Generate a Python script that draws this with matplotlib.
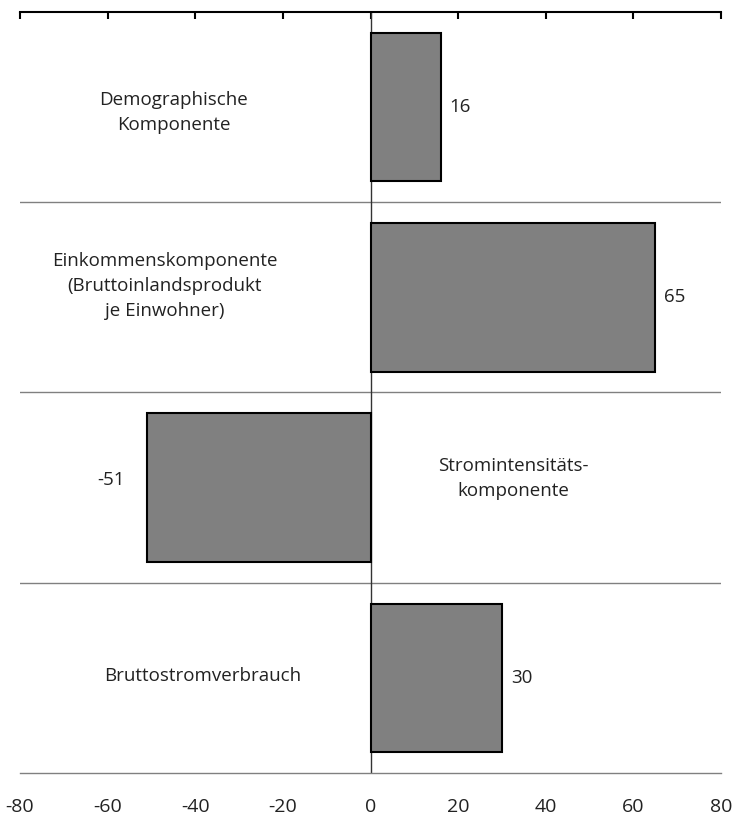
import numpy as np
import matplotlib.pyplot as plt

plt.rcParams['font.family'] = ['Open Sans', 'DejaVu Sans']

categories = ["Demographische\nKomponente",
              "Einkommenskomponente\n(Bruttoinlandsprodukt\nje Einwohner)",
              "Stromintensitäts-\nkomponente",
              "Bruttostromverbrauch"]
values = [16, 65, -51, 30]
xticks = [-80, -60, -40, -20, 0, 20, 40, 60, 80]

fig = plt.figure(figsize=(7.36, 8.21), dpi=100)
ax = fig.add_axes([20/736, 1 - 773/821, 701/736, 761/821])

ypos = np.arange(len(values)) + 0.5
ax.barh(ypos, values, height=0.78, color="#808080", edgecolor="black",
        linewidth=1.5, zorder=3)

ax.set_xlim(-80, 80)
ax.set_ylim(4, 0)
ax.set_xticks(xticks)
ax.set_xticklabels([str(t) for t in xticks])
ax.set_yticks([])

# separators between the components
for y in [1, 2, 3]:
    ax.axhline(y, color="#808080", lw=1.0, zorder=1)
ax.axvline(0, color="#333333", lw=1.0, zorder=2)

for side in ["left", "right"]:
    ax.spines[side].set_visible(False)
ax.spines["top"].set_linewidth(1.5)
ax.spines["bottom"].set_color("#808080")
ax.spines["bottom"].set_linewidth(1.0)

ax.tick_params(axis="x", top=True, bottom=False, direction="in",
               length=5, width=1.5, labelsize=14, pad=18, labelcolor="#222222")

# category labels
label_xy = [(-44.9, 0.53), (-47.0, 1.44), (32.7, 2.45), (-38.4, 3.49)]
for text, (x, y) in zip(categories, label_xy):
    ax.text(x, y, text, ha="center", va="center", fontsize=13.5,
            linespacing=1.5, color="#222222")

# value labels
for i, v in enumerate(values):
    if v >= 0:
        ax.text(v + 2.0, ypos[i], str(v), ha="left", va="center",
                fontsize=13.5, color="#222222")
    else:
        ax.text(v - 5.0, ypos[i] - 0.04, str(v), ha="right", va="center",
                fontsize=13.5, color="#222222")

fig.savefig("out.png", dpi=100)
